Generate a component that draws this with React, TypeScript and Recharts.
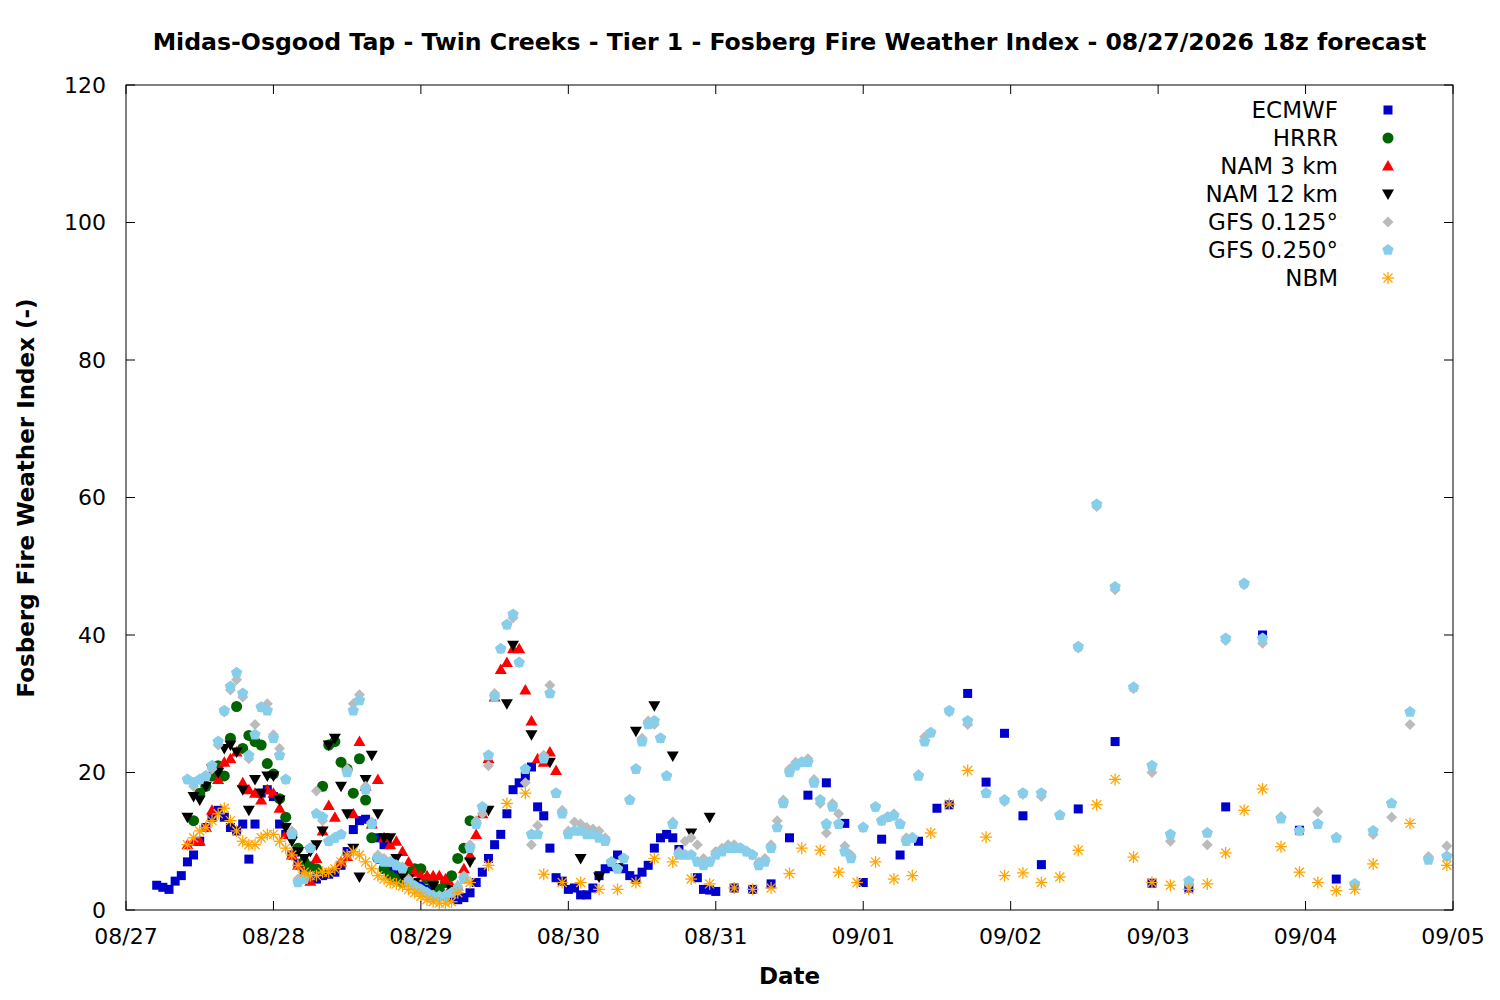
import { ScatterChart, Scatter, XAxis, YAxis, Tooltip } from "recharts";

// hours since 08/27 00z, value
const ecmwf: [number, number][] = [
  [5, 3.6], [6, 3.3], [7, 3.0], [8, 4.2], [9, 5.0], [10, 7], [11, 8], [12, 10], [13, 12], [14, 13.5],
  [15, 14.5], [16, 13.5], [17, 12], [18, 11.5], [19, 12.5], [20, 7.4], [21, 12.5], [22, 17], [23, 17.5], [24, 16.5],
  [25, 12.5], [26, 11], [27, 8], [28, 6.8], [29, 5.5], [30, 4.5], [31, 4.5], [32, 5], [33, 5.2], [34, 5.5],
  [35, 6.5], [36, 8.5], [37, 11.7], [38, 13], [39, 13.2], [40, 12.5], [41, 10.5], [42, 9.5], [43, 6], [44, 5.5],
  [45, 5], [46, 4.5], [47, 4], [48, 3.5], [49, 3], [50, 2.8], [51, 2.5], [52, 2.2], [53, 1.8], [54, 1.5],
  [55, 1.8], [56, 2.5], [57, 4], [58, 5.5], [59, 7.5], [60, 9.5], [61, 11], [62, 14], [63, 17.5], [64, 18.5],
  [65, 19.5], [66, 20.8], [67, 15], [68, 13.7], [69, 9], [70, 4.7], [71, 4.2], [72, 3], [73, 3.2], [74, 2.2],
  [75, 2.2], [76, 3.2], [77, 5], [78, 6], [79, 6.3], [80, 8], [81, 6], [82, 5], [83, 4.5], [84, 5.5],
  [85, 6.5], [86, 9], [87, 10.5], [88, 11], [89, 10.5], [90, 8.8], [93, 4.7], [94, 3], [95, 2.9], [96, 2.7],
  [99, 3.2], [102, 3], [105, 3.8], [108, 10.5], [111, 16.7], [114, 18.5], [117, 12.6], [120, 4], [123, 10.3], [126, 8],
  [129, 10], [132, 14.8], [134, 15.3], [137, 31.5], [140, 18.6], [143, 25.7], [146, 13.7], [149, 6.6], [155, 14.7], [161, 24.5],
  [167, 3.9], [173, 3.2], [179, 15], [185, 40], [191, 11.6], [197, 4.5],
];

const hrrr: [number, number][] = [
  [11, 13], [12, 17], [13, 18], [14, 19.5], [15, 21], [16, 19.5], [17, 25], [18, 29.6], [19, 23.5], [20, 25.4],
  [21, 24.5], [22, 24], [23, 21.3], [24, 19.8], [25, 16.2], [26, 13.5], [27, 11], [28, 9], [29, 7], [30, 6.3],
  [31, 6], [32, 18], [33, 24], [34, 24.5], [35, 21.5], [36, 20.5], [37, 17], [38, 22], [39, 16], [40, 10.5],
  [41, 7.5], [42, 6], [43, 5], [44, 4.5], [45, 4], [46, 5.5], [47, 6], [48, 6], [49, 4.5], [50, 4],
  [51, 3], [52, 4], [53, 5], [54, 7.5], [55, 9], [56, 13],
];

const nam3: [number, number][] = [
  [10, 9.5], [11, 10], [12, 10], [13, 12], [14, 14.5], [15, 19], [16, 21.5], [17, 22], [18, 23], [19, 18.5],
  [20, 17.5], [21, 17], [22, 16], [23, 17.5], [24, 17], [25, 14.8], [26, 11], [27, 8], [28, 6.5], [29, 5],
  [30, 4.2], [31, 7.5], [32, 11.5], [33, 15.2], [34, 13.5], [35, 7], [36, 7.8], [37, 14], [38, 24.5], [39, 18],
  [40, 12.5], [41, 19], [42, 10.5], [43, 9.5], [44, 10], [45, 8.5], [46, 7], [47, 5.5], [48, 5], [49, 5],
  [50, 5], [51, 5], [52, 4.5], [53, 3.5], [54, 3.5], [55, 6], [56, 8], [57, 11], [58, 14], [59, 22],
  [60, 31], [61, 35], [62, 36], [63, 38], [64, 38], [65, 32], [66, 27.5], [67, 22], [68, 21.5], [69, 23], [70, 20.3],
];

const nam12: [number, number][] = [
  [10, 13.5], [11, 16.5], [12, 16], [13, 18], [14, 20.5], [15, 20], [16, 23.5], [17, 24], [18, 23], [19, 17.5],
  [20, 14.5], [21, 19], [22, 17], [23, 19.5], [24, 19.5], [25, 16], [26, 12], [27, 10], [28, 8.5], [29, 7.5],
  [30, 8.5], [31, 9.5], [32, 11.5], [33, 24], [34, 25], [35, 18], [36, 14], [37, 9], [38, 4.8], [39, 19],
  [40, 22.5], [41, 14], [42, 10.5], [43, 10.5], [44, 7.5], [45, 5], [46, 4.5], [47, 4], [50, 3.5], [53, 3],
  [56, 7], [59, 14.5], [62, 30], [63, 38.5], [66, 25.5], [69, 21.5], [74, 7.5], [77, 4.8], [80, 6.2], [83, 26],
  [86, 29.7], [89, 22.4], [92, 11.2], [95, 13.5],
];

const gfs025: [number, number][] = [
  [10, 19], [11, 18.5], [12, 19], [13, 19.5], [14, 21], [15, 24.5], [16, 29], [17, 32.5], [18, 34.5], [19, 31.5],
  [20, 22.5], [21, 25.5], [22, 29.5], [23, 29], [24, 25], [25, 22.5], [26, 19], [27, 11], [28, 4], [29, 4.5],
  [30, 9], [31, 14], [32, 13.5], [33, 10], [34, 10.5], [35, 11], [36, 20], [37, 29], [38, 30.5], [39, 17.5],
  [40, 12.5], [41, 7.5], [42, 7], [43, 7], [44, 6.5], [45, 6], [46, 4], [47, 3.5], [48, 3], [49, 2.5],
  [50, 2], [51, 2], [52, 2], [53, 2.5], [54, 3], [55, 4.5], [56, 9], [57, 12.5], [58, 15], [59, 22.5],
  [60, 31], [61, 38], [62, 41.5], [63, 43], [64, 36], [65, 20.5], [66, 11], [67, 11], [68, 22], [69, 31.5],
  [70, 17], [71, 14], [72, 11], [73, 11.5], [74, 11.5], [75, 11], [76, 11], [77, 10.5], [78, 10], [79, 7],
  [80, 6], [81, 7.5], [82, 16], [83, 20.5], [84, 24.5], [85, 27], [86, 27.5], [87, 25], [88, 19.5], [89, 12.5],
  [90, 8], [91, 8], [92, 8], [93, 7], [94, 6.5], [95, 7], [96, 8], [97, 8.5], [98, 9], [99, 9],
  [100, 9], [101, 8.5], [102, 8], [103, 6.5], [104, 7], [105, 9], [106, 12], [107, 15.5], [108, 20], [109, 21],
  [110, 21.5], [111, 21.5], [112, 18.5], [113, 16], [114, 12.5], [115, 15], [116, 12.5], [117, 8.5], [118, 7.5], [120, 12],
  [122, 15], [123, 13], [124, 13.5], [125, 13.7], [126, 12.5], [127, 10], [128, 10.5], [129, 19.5], [130, 24.5], [131, 25.8],
  [134, 29], [137, 27.5], [140, 17], [143, 16], [146, 17], [149, 17], [152, 13.8], [155, 38.3], [158, 59], [161, 47],
  [164, 32.4], [167, 21], [170, 11], [173, 4.2], [176, 11.2], [179, 39.5], [182, 47.5], [185, 39.5], [188, 13.3], [191, 11.5],
  [194, 12.5], [197, 10.5], [200, 3.8], [203, 11.5], [206, 15.5], [209, 28.8], [212, 7.3], [215, 7.8],
];

const gfs0125: [number, number][] = [
  [10, 19], [11, 18], [12, 19], [13, 19.5], [14, 20.5], [15, 24], [16, 28.8], [17, 32], [18, 33.5], [19, 31],
  [20, 22], [21, 27], [22, 29.5], [23, 30], [24, 25.5], [25, 23.5], [26, 19], [27, 11.5], [28, 4.5], [29, 5],
  [30, 9], [31, 17.3], [32, 13], [33, 10], [34, 10.5], [35, 11], [36, 20.5], [37, 30], [38, 31.3], [39, 18],
  [40, 12.8], [41, 8], [42, 7.5], [43, 7], [44, 6.5], [45, 6.3], [46, 4.5], [47, 3.5], [48, 3], [49, 2.5],
  [50, 2.2], [51, 2], [52, 2.2], [53, 2.5], [54, 3.5], [55, 5], [56, 9.5], [57, 13], [58, 14], [59, 21],
  [60, 31.5], [61, 38], [62, 41.5], [63, 42.5], [64, 36], [65, 18.5], [66, 9.5], [67, 12.3], [68, 22.5], [69, 32.7],
  [70, 17], [71, 14.5], [72, 11.5], [73, 12.8], [74, 12.5], [75, 12], [76, 11.8], [77, 11.5], [78, 10.5], [79, 7],
  [80, 6], [81, 7.5], [82, 16], [83, 20.5], [84, 25], [85, 27.5], [86, 27], [87, 25], [88, 19.5], [89, 12.8],
  [90, 8.5], [91, 10], [92, 10.5], [93, 9.5], [94, 7.5], [95, 7], [96, 8.5], [97, 9], [98, 9.5], [99, 9.5],
  [100, 9], [101, 8.5], [102, 8], [103, 7], [104, 7.5], [105, 9.5], [106, 13], [107, 16], [108, 20.5], [109, 21.5],
  [110, 21.5], [111, 22], [112, 19], [113, 15.5], [114, 11.2], [115, 15.5], [116, 14], [117, 9.3], [118, 8], [120, 12],
  [122, 15], [123, 13], [124, 13.5], [125, 14], [126, 12.5], [127, 10.5], [128, 10.5], [129, 19.7], [130, 25.2], [131, 25.8],
  [134, 28.8], [137, 27], [140, 17], [143, 15.8], [146, 16.8], [149, 16.5], [152, 13.8], [155, 38.1], [158, 58.7], [161, 46.6],
  [164, 32.2], [167, 20], [170, 10], [173, 3.8], [176, 9.5], [179, 39.2], [182, 47.3], [185, 38.8], [188, 13.6], [191, 11.5],
  [194, 14.3], [197, 10.5], [200, 3.8], [203, 11], [206, 13.5], [209, 27], [212, 7.8], [215, 9.3],
];

const nbm: [number, number][] = [
  [10, 9.5], [11, 10.5], [12, 11.5], [13, 12], [14, 13], [15, 14], [16, 14.8], [17, 13], [18, 11.5], [19, 10],
  [20, 9.5], [21, 9.5], [22, 10.5], [23, 11], [24, 11], [25, 10], [26, 9], [27, 8], [28, 6.5], [29, 5.5],
  [30, 5], [31, 5], [32, 5.5], [33, 5.5], [34, 6], [35, 7], [36, 8], [37, 8.5], [38, 8], [39, 7],
  [40, 6], [41, 5], [42, 4.5], [43, 4], [44, 3.8], [45, 3.5], [46, 3], [47, 2.5], [48, 2], [49, 1.5],
  [50, 1.2], [51, 1], [52, 1], [53, 1.2], [54, 2.5], [56, 4], [59, 6.5], [62, 15.5], [65, 17], [68, 5.2],
  [71, 4], [74, 4], [77, 3], [80, 3], [83, 4], [86, 7.5], [89, 7], [92, 4.5], [95, 3.8], [99, 3.2],
  [102, 3], [105, 3.2], [108, 5.3], [110, 9], [113, 8.7], [116, 5.5], [119, 4], [122, 7], [125, 4.5], [128, 5],
  [131, 11.2], [134, 15.4], [137, 20.3], [140, 10.6], [143, 5], [146, 5.4], [149, 4], [152, 4.8], [155, 8.7], [158, 15.3],
  [161, 19], [164, 7.7], [167, 4], [170, 3.6], [173, 3], [176, 3.8], [179, 8.3], [182, 14.5], [185, 17.6], [188, 9.2],
  [191, 5.5], [194, 4], [197, 2.8], [200, 3], [203, 6.7], [209, 12.6], [215, 6.5],
];

const dateTicks = [0, 24, 48, 72, 96, 120, 144, 168, 192, 216];
const dateLabels = ["08/27", "08/28", "08/29", "08/30", "08/31", "09/01", "09/02", "09/03", "09/04", "09/05"];
const valueTicks = [0, 20, 40, 60, 80, 100, 120];

const FONT = "DejaVu Sans, sans-serif";
const PLOT = { left: 126, top: 85, width: 1327, height: 825 };

const toPts = (arr: [number, number][]) => arr.map(([h, v]) => ({ h, v }));

const Square = ({ cx, cy }: any) => <rect x={cx - 4.5} y={cy - 4.5} width={9} height={9} fill="#0000cd" />;
const Circle = ({ cx, cy }: any) => <circle cx={cx} cy={cy} r={5.5} fill="#006400" />;
const TriUp = ({ cx, cy }: any) => (
  <polygon points={`${cx},${cy - 6} ${cx - 6},${cy + 4.5} ${cx + 6},${cy + 4.5}`} fill="#ff0000" />
);
const TriDown = ({ cx, cy }: any) => (
  <polygon points={`${cx},${cy + 6} ${cx - 6},${cy - 4.5} ${cx + 6},${cy - 4.5}`} fill="#000000" />
);
const Diamond = ({ cx, cy }: any) => (
  <polygon points={`${cx},${cy - 5.5} ${cx + 5.5},${cy} ${cx},${cy + 5.5} ${cx - 5.5},${cy}`} fill="#bbbbbb" />
);
const Pentagon = ({ cx, cy }: any) => {
  const pts = [0, 1, 2, 3, 4]
    .map((i) => {
      const a = -Math.PI / 2 + (i * 2 * Math.PI) / 5;
      return `${cx + 6 * Math.cos(a)},${cy + 6 * Math.sin(a)}`;
    })
    .join(" ");
  return <polygon points={pts} fill="#87ceeb" />;
};
const Star = ({ cx, cy }: any) => (
  <g stroke="#ffa500" strokeWidth={1.3}>
    <line x1={cx - 6} y1={cy} x2={cx + 6} y2={cy} />
    <line x1={cx} y1={cy - 6} x2={cx} y2={cy + 6} />
    <line x1={cx - 4.5} y1={cy - 4.5} x2={cx + 4.5} y2={cy + 4.5} />
    <line x1={cx - 4.5} y1={cy + 4.5} x2={cx + 4.5} y2={cy - 4.5} />
  </g>
);

const series = [
  { name: "ECMWF", data: ecmwf, shape: Square },
  { name: "HRRR", data: hrrr, shape: Circle },
  { name: "NAM 3 km", data: nam3, shape: TriUp },
  { name: "NAM 12 km", data: nam12, shape: TriDown },
  { name: "GFS 0.125°", data: gfs0125, shape: Diamond },
  { name: "GFS 0.250°", data: gfs025, shape: Pentagon },
  { name: "NBM", data: nbm, shape: Star },
];

// inward tick marks and frame, like gnuplot
function Frame() {
  const { left, top, width, height } = PLOT;
  const xs = dateTicks.map((t) => left + (t / 216) * width);
  const ys = valueTicks.map((t) => top + height - (t / 120) * height);
  return (
    <svg width={1500} height={1000} style={{ position: "absolute", left: 0, top: 0, pointerEvents: "none" }}>
      <rect x={left} y={top} width={width} height={height} fill="none" stroke="#000" strokeWidth={1} />
      {xs.map((x, i) => (
        <g key={"x" + i} stroke="#000">
          <line x1={x} y1={top + height} x2={x} y2={top + height - 9} />
          <line x1={x} y1={top} x2={x} y2={top + 9} />
        </g>
      ))}
      {ys.map((y, i) => (
        <g key={"y" + i} stroke="#000">
          <line x1={left} y1={y} x2={left + 9} y2={y} />
          <line x1={left + width} y1={y} x2={left + width - 9} y2={y} />
        </g>
      ))}
    </svg>
  );
}

export default function App() {
  return (
    <div style={{ position: "absolute", left: 0, top: 0, width: 1500, height: 1000, background: "#fff", fontFamily: FONT }}>
      <div style={{ position: "absolute", top: 28, left: 126, width: 1327, textAlign: "center", fontWeight: "bold", fontSize: 23.6 }}>
        Midas-Osgood Tap - Twin Creeks - Tier 1 - Fosberg Fire Weather Index - 08/27/2026 18z forecast
      </div>
      <ScatterChart width={1500} height={1000} margin={{ top: 85, right: 47, bottom: 30, left: 66 }}>
        <XAxis
          type="number"
          dataKey="h"
          domain={[0, 216]}
          ticks={dateTicks}
          tickFormatter={(v) => dateLabels[dateTicks.indexOf(v)]}
          stroke="#000"
          tickLine={false}
          axisLine={false}
          tickMargin={12}
          height={60}
          tick={{ fontSize: 22, fill: "#000", fontFamily: FONT }}
          label={{ value: "Date", position: "insideBottom", offset: -14, fontSize: 23, fontWeight: "bold", fill: "#000", fontFamily: FONT }}
          allowDataOverflow
        />
        <YAxis
          type="number"
          dataKey="v"
          domain={[0, 120]}
          ticks={valueTicks}
          stroke="#000"
          tickLine={false}
          axisLine={false}
          tickMargin={14}
          width={60}
          tick={{ fontSize: 22, fill: "#000", fontFamily: FONT }}
          label={{ value: "Fosberg Fire Weather Index (-)", angle: -90, position: "insideLeft", offset: -40, dy: 200, fontSize: 23, fontWeight: "bold", fill: "#000", fontFamily: FONT }}
        />
        <Tooltip />
        {series.map((s) => (
          <Scatter key={s.name} name={s.name} data={toPts(s.data)} shape={s.shape} isAnimationActive={false} />
        ))}
      </ScatterChart>
      <Frame />
      <div style={{ position: "absolute", top: 96, left: 1090, width: 310 }}>
        {series.map((s) => {
          const Shape = s.shape;
          return (
            <div key={s.name} style={{ display: "flex", justifyContent: "flex-end", alignItems: "center", height: 28, fontSize: 23 }}>
              <span style={{ marginRight: 40 }}>{s.name}</span>
              <svg width={20} height={20} style={{ marginRight: 2 }}>
                <Shape cx={10} cy={10} />
              </svg>
            </div>
          );
        })}
      </div>
    </div>
  );
}
